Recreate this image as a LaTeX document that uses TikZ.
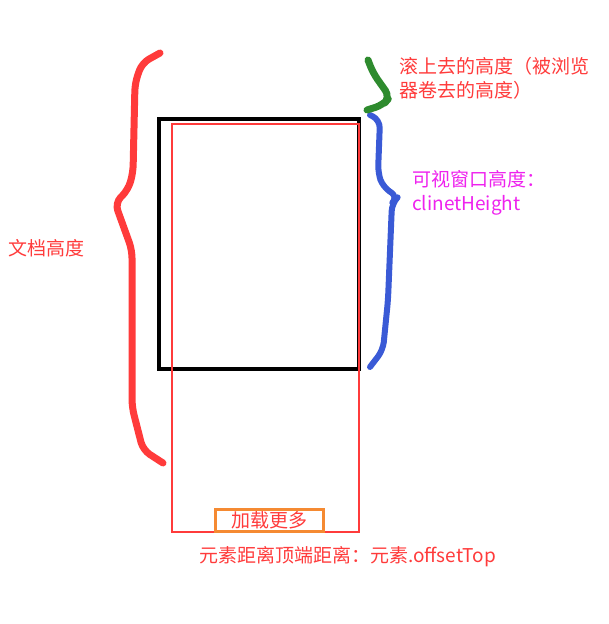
\documentclass[tikz,border=0pt]{standalone}
\usepackage{fontspec}
\setmainfont{Noto Sans CJK SC}
\usetikzlibrary{positioning}
\definecolor{hintred}{HTML}{FF3B3B}
\definecolor{hintblue}{HTML}{3A5AD6}
\definecolor{hintgreen}{HTML}{2E8B2E}
\definecolor{hintpink}{HTML}{EE22EE}
\definecolor{hintorange}{HTML}{F58A32}

\begin{document}
\begin{tikzpicture}[
    x=1pt, y=-1pt,
    label/.style={anchor=west, align=left, inner sep=0pt, font=\fontsize{19}{24}\selectfont},
    brace/.style={line width=7pt, line cap=round, line join=round, rounded corners=8pt}
]
\useasboundingbox (0,0) rectangle (609,624);

% 可视窗口 与 文档
\draw[line width=3.2pt] (159,119) rectangle (359,369);
\draw[hintred, line width=2.5pt] (172,124) rectangle (359,532);
\node[draw=hintorange, line width=3pt, minimum width=108pt, minimum height=22pt, inner sep=0pt,
      text=hintred, font=\fontsize{19}{24}\selectfont] (more) at (269,520) {加载更多};

% 括号
\draw[brace, hintred] (160,53) -- (142,63) -- (135,83) -- (133,173) -- (128,190) -- (115,203)
    -- (132,250) -- (132,407) -- (143,450) -- (163,463);
\draw[brace, hintblue, line width=6pt] (370,115) -- (380,120) -- (378,173) -- (383,187) -- (398,197)
    -- (392,203) -- (388,300) -- (383,350) -- (370,367);
\draw[brace, hintgreen] (368,60) -- (373,73) -- (390,97) -- (383,105) -- (367,110);

% 文字
\node[label, text=hintred] (scroll) at (399,78) {滚上去的高度（被浏览\\器卷去的高度）};
\node[label, text=hintpink] (client) at (412,193) {可视窗口高度：\\clinetHeight};
\node[label, text=hintred] (doc) at (8,248) {文档高度};
\node[label, text=hintred] (offset) at (199,557) {元素距离顶端距离：元素.offsetTop};

\end{tikzpicture}
\end{document}
